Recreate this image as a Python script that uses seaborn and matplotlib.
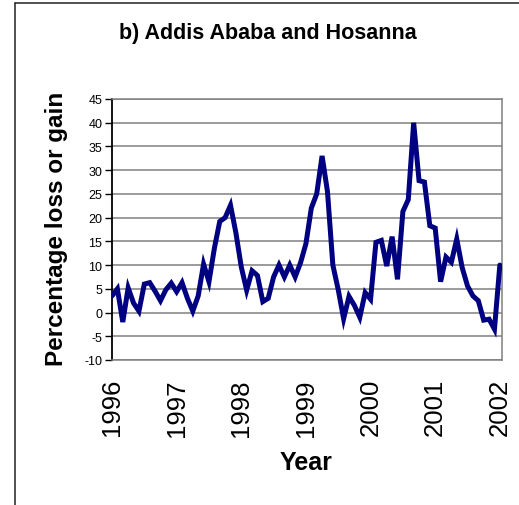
import matplotlib
matplotlib.use("Agg")
import matplotlib.pyplot as plt
from matplotlib.lines import Line2D
import seaborn as sns
import pandas as pd

# ---- data ----
month_index = list(range(73))
pct_change = [3.5, 5.0, -2.0, 5.2, 2.0, 0.3, 6.0, 6.3, 4.5, 2.5, 4.8, 6.2,
              4.4, 6.3, 3.0, 0.3, 3.5, 10.2, 6.5, 13.5, 19.2, 20.0, 22.6, 16.8,
              9.6, 4.7, 8.8, 7.8, 2.3, 3.0, 7.5, 10.0, 7.5, 10.0, 7.5, 10.5,
              14.5, 22.0, 25.0, 33.0, 25.5, 10.0, 4.8, -1.3, 3.4, 1.5, -1.0, 4.2,
              2.8, 14.8, 15.2, 9.8, 16.0, 7.0, 21.3, 23.8, 40.0, 27.8, 27.5, 18.3,
              17.8, 6.5, 11.7, 10.6, 15.5, 9.5, 5.6, 3.5, 2.5, -1.6, -1.4, -3.5,
              10.0]
year_labels = ["1996", "1997", "1998", "1999", "2000", "2001", "2002"]
year_ticks = [0, 12, 24, 36, 48, 60, 72]
y_ticks = list(range(-10, 50, 5))

df = pd.DataFrame({"month": month_index, "pct": pct_change})

sns.set_style("white")
plt.rcParams["font.family"] = ["Liberation Sans", "DejaVu Sans"]
plt.rcParams["text.color"] = "black"
plt.rcParams["xtick.color"] = "black"
plt.rcParams["ytick.color"] = "black"
plt.rcParams["axes.labelcolor"] = "black"

fig = plt.figure(figsize=(5.19, 5.06), dpi=100)
ax = fig.add_axes([112/519, 1-361/506, (502-112)/519, (361-100)/506])

sns.lineplot(data=df, x="month", y="pct", ax=ax, color="#000080",
             linewidth=3.6, solid_joinstyle="miter", zorder=3)

ax.set_xlim(0, 72.4)
ax.set_ylim(-10, 45)
ax.set_yticks(y_ticks)
ax.set_yticklabels([str(v) for v in y_ticks], fontsize=9)
ax.set_xticks(year_ticks)
ax.set_xticklabels(year_labels, rotation=90, fontsize=18.5)
ax.tick_params(axis="x", length=0, pad=13)
ax.tick_params(axis="y", length=5, width=1, color="black", pad=2, direction="out", left=True)
ax.set_xlabel("")
ax.set_ylabel("")

ax.yaxis.grid(True, color="#808080", linewidth=1.1)
ax.xaxis.grid(False)
ax.set_axisbelow(True)

for side in ["top", "right", "bottom"]:
    ax.spines[side].set_color("#808080")
    ax.spines[side].set_linewidth(1.1)
    ax.spines[side].set_visible(True)
ax.spines["left"].set_color("black")
ax.spines["left"].set_linewidth(1.3)
ax.spines["left"].set_visible(True)

fig.text(268/519, 1-33/506, "b) Addis Ababa and Hosanna", ha="center", va="center",
         fontsize=15.5, fontweight="bold")
fig.text(57/519, 1-229/506, "Percentage loss or gain", ha="center", va="center",
         rotation=90, fontsize=17.5, fontweight="bold")
fig.text(306/519, 1-463/506, "Year", ha="center", va="center",
         fontsize=18, fontweight="bold")

# outer chart frame (partially visible)
fx = 14.5/519
fy = 1 - 3.5/506
fig.add_artist(Line2D([fx, fx], [0, fy], transform=fig.transFigure, color="#222222", lw=1.1))
fig.add_artist(Line2D([fx, 1], [fy, fy], transform=fig.transFigure, color="#222222", lw=1.1))

fig.savefig("out.png", dpi=100)
